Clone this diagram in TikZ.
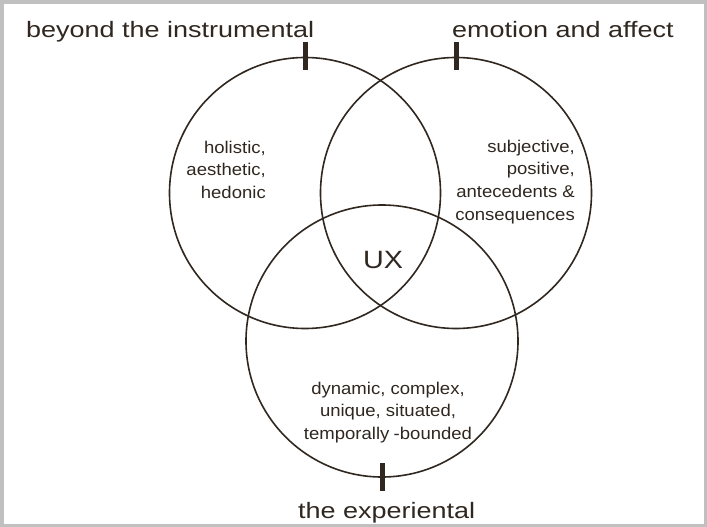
\documentclass[tikz,border=0pt]{standalone}
\usepackage{fontspec}
\setmainfont{Liberation Sans}
\usepackage{graphicx}
\definecolor{ink}{RGB}{48,40,32}
\definecolor{framegray}{RGB}{192,192,192}
\begin{document}
\begin{tikzpicture}[x=1pt,y=-1pt,
  ring/.style={circle, draw=ink, line width=1.6pt, inner sep=0pt, outer sep=0pt},
  tickmark/.style={draw=ink, line width=5pt},
  biglabel/.style={inner sep=0pt, text=ink, font=\fontsize{22.3}{26}\selectfont},
  smalltext/.style={inner sep=0pt, text=ink, font=\fontsize{17}{22.8}\selectfont},
]
\fill[framegray] (0,0) rectangle (707,527);
\fill[white] (4,4) rectangle (704,524);
\useasboundingbox (0,0) rectangle (707,527);

\node[ring, minimum size=271pt] (L) at (305,193) {};
\node[ring, minimum size=271pt] (R) at (456,193) {};
\node[ring, minimum size=272pt] (B) at (382,341) {};

\draw[tickmark] ([yshift=15pt]L.north) -- ([yshift=-13pt]L.north);
\draw[tickmark] ([yshift=15pt]R.north) -- ([yshift=-13pt]R.north);
\draw[tickmark] ([yshift=14pt]B.south) -- ([yshift=-14pt]B.south);

\node[biglabel, anchor=base west] (t1) at (26,38) {\scalebox{1.21}[1]{beyond the instrumental}};
\node[biglabel, anchor=base west] (t2) at (452,38) {\scalebox{1.21}[1]{emotion and affect}};
\node[biglabel, anchor=base west] (t3) at (298,518) {\scalebox{1.21}[1]{the experiental}};

\node[inner sep=0pt, text=ink, font=\fontsize{25}{30}\selectfont, anchor=base west] (ux) at (363,268) {\scalebox{1.15}[1]{UX}};

\node[smalltext, anchor=north east] (la) at (266,137) {\scalebox{1.09}[1]{\begin{tabular}{@{}r@{}}holistic,\\aesthetic,\\hedonic\end{tabular}}};
\node[smalltext, anchor=north east] (ra) at (575,136) {\scalebox{1.09}[1]{\begin{tabular}{@{}r@{}}subjective,\\positive,\\antecedents \&\\consequences\end{tabular}}};
\node[smalltext, anchor=north] (ba) at (388,378) {\scalebox{1.09}[1]{\begin{tabular}{@{}c@{}}dynamic, complex,\\unique, situated,\\temporally\kern4pt-bounded\end{tabular}}};
\end{tikzpicture}
\end{document}
